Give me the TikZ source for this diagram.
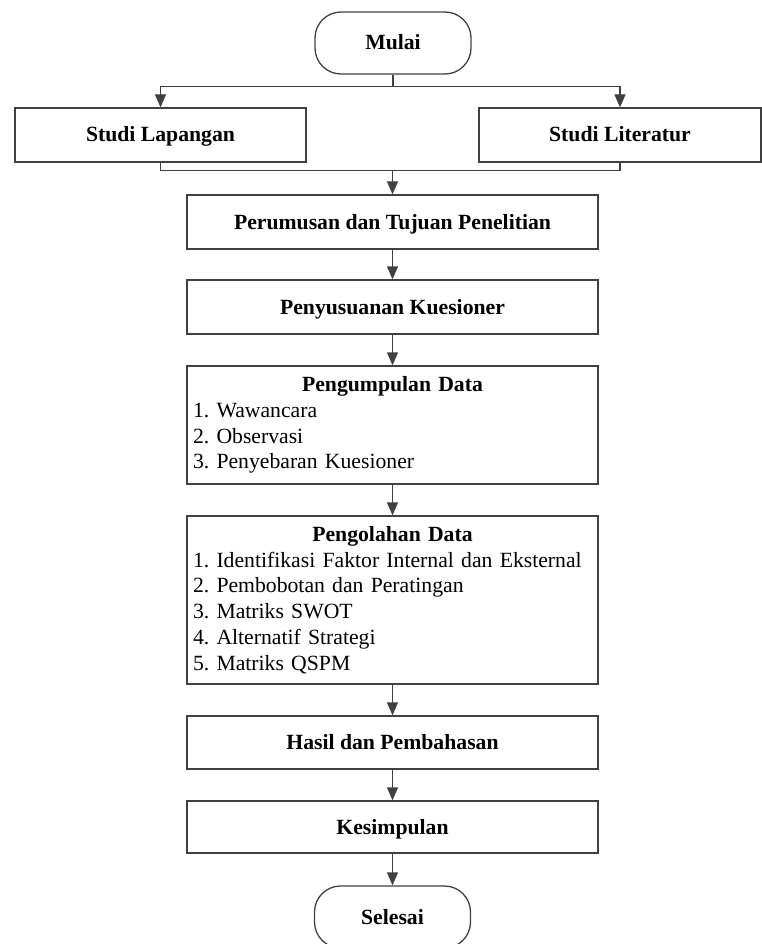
\documentclass[tikz,border=0pt]{standalone}
\usepackage{fontspec}
\setmainfont{Liberation Serif}
\usetikzlibrary{arrows.meta,positioning,calc}
\frenchspacing

\begin{document}
\begin{tikzpicture}[x=1pt,y=-1pt,
  box/.style={draw=black!75,line width=1.3pt,minimum height=54pt,inner sep=0pt,
    font=\fontsize{21.7}{25.7}\selectfont},
  satu/.style={box,text height=17pt,text depth=3pt},
  term/.style={satu,rounded corners=26pt,minimum width=156pt,minimum height=62pt},
  lebar/.style={satu,minimum width=411pt},
  daftar/.style={box,minimum width=411pt,text width=399pt,align=left},
  garis/.style={draw=black!75,line width=1.3pt},
  panah/.style={garis,-{Triangle[length=13pt,width=11pt]}}]
\useasboundingbox (0,0) rectangle (762,944);
\node[term] (mulai) at (393,43) {\textbf{Mulai}};
\node[satu,minimum width=291pt] (lapangan) at (160.5,135) {\textbf{Studi Lapangan}};
\node[satu,minimum width=282pt] (literatur) at (620,135) {\textbf{Studi Literatur}};
\node[lebar] (rumusan) at (392.5,222) {\textbf{Perumusan dan Tujuan Penelitian}};
\node[lebar] (kuesioner) at (392.5,307) {\textbf{Penyusuanan Kuesioner}};
\node[daftar,minimum height=118pt] (kumpul) at (392.5,425)
  {\makebox[399pt]{\textbf{Pengumpulan Data}}\\
   1. Wawancara\\
   2. Observasi\\
   3. Penyebaran Kuesioner};
\node[daftar,minimum height=168pt] (olah) at (392.5,600)
  {\makebox[399pt]{\textbf{Pengolahan Data}}\\
   1. Identifikasi Faktor Internal dan Eksternal\\
   2. Pembobotan dan Peratingan\\
   3. Matriks SWOT\\
   4. Alternatif Strategi\\
   5. Matriks QSPM};
\node[lebar,minimum height=53pt] (hasil) at (392.5,742.5) {\textbf{Hasil dan Pembahasan}};
\node[lebar,minimum height=52pt] (simpul) at (392.5,827) {\textbf{Kesimpulan}};
\node[term] (selesai) at (392.5,917) {\textbf{Selesai}};
% percabangan atas
\coordinate (cabang) at ($(mulai.south)+(0,12)$);
\draw[garis] (mulai.south) -- (cabang);
\draw[panah] (cabang) -| (lapangan.north);
\draw[panah] (cabang) -| (literatur.north);
\coordinate (gabung) at ($(rumusan.north)+(0,-24)$);
\draw[garis] (lapangan.south) |- (gabung) -| (literatur.south);
\draw[panah] (gabung) -- (rumusan.north);
% alur utama
\draw[panah] (rumusan) -- (kuesioner);
\draw[panah] (kuesioner) -- (kumpul);
\draw[panah] (kumpul) -- (olah);
\draw[panah] (olah) -- (hasil);
\draw[panah] (hasil) -- (simpul);
\draw[panah] (simpul) -- (selesai);
\end{tikzpicture}
\end{document}
